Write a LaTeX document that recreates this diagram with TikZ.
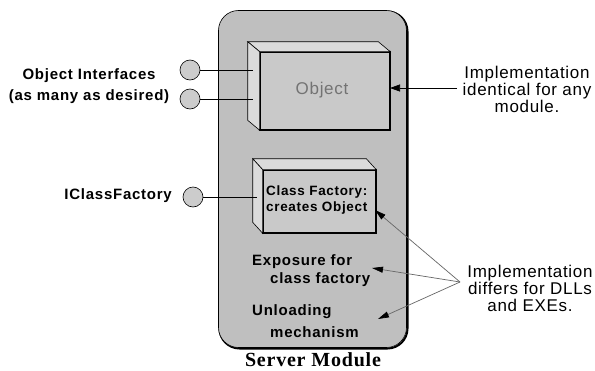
\documentclass[tikz,border=0pt]{standalone}
\usepackage{fontspec}
\setmainfont{Liberation Sans}
\newfontfamily\titlefont[LetterSpace=4]{Liberation Serif}
\newfontfamily\boldlab[LetterSpace=5]{Liberation Sans}
\newfontfamily\notefont[LetterSpace=4]{Liberation Sans}
\usetikzlibrary{arrows.meta,calc}
\definecolor{modfill}{gray}{0.75}
\definecolor{facefill}{gray}{0.86}
\definecolor{frontfill}{gray}{0.79}
\definecolor{dotfill}{gray}{0.80}
\tikzset{
  x=1pt, y=-1pt,
  label/.style={font=\boldlab\fontsize{15}{17}\selectfont\bfseries, inner sep=0pt},
  inner/.style={font=\boldlab\fontsize{15}{17}\selectfont\bfseries, inner sep=0pt, anchor=west},
  boxtext/.style={font=\boldlab\fontsize{13.5}{16}\selectfont\bfseries, inner sep=0pt, anchor=west},
  note/.style={font=\notefont\fontsize{17}{17}\selectfont, align=center, inner sep=0pt},
  iface/.style={circle, draw=black, line width=0.6pt, fill=dotfill, minimum size=20pt, inner sep=0pt},
  front/.style={rectangle, draw=black, line width=0.6pt, fill=frontfill, inner sep=0pt},
  face/.style={draw=black, line width=0.6pt, fill=facefill, line join=miter},
  shadowedge/.style={line width=2.2pt, line cap=round},
  wire/.style={line width=0.6pt},
  pointer/.style={line width=0.7pt, -{Triangle[length=10pt,width=7pt]}},
  greypointer/.style={line width=0.7pt, draw=black!60, -{Triangle[length=11pt,width=6pt,color=black,fill=black]}}
}
\begin{document}
\begin{tikzpicture}
\useasboundingbox (0,0) rectangle (595,370);
\fill[white] (0,0) rectangle (595,370);

% server module body with heavier right/bottom edge
\draw[line width=2pt, rounded corners=20pt] (219.5,11.5) rectangle (407.5,348.5);
\node[draw=black, line width=0.6pt, fill=modfill, rounded corners=20pt,
      minimum width=188pt, minimum height=337pt, inner sep=0pt] (module) at (312.5,179) {};

% Object: 3D box
\node[front, minimum width=130pt, minimum height=78pt] (objfront) at (325,91) {};
\draw[face] (objfront.north west) -- ++(-12,-10) -- ($(objfront.north east)+(-12,-10)$) -- (objfront.north east) -- cycle;
\draw[face] (objfront.north west) -- ++(-12,-10) -- ($(objfront.south west)+(-12,-10)$) -- (objfront.south west) -- cycle;
\draw[shadowedge] (objfront.north east) -- (objfront.south east) -- (objfront.south west);
\node[font=\notefont\fontsize{17}{17}\selectfont, text=black!55, inner sep=0pt] (objtext) at (322,90) {Object};

% Class factory: 3D box
\node[front, minimum width=113pt, minimum height=63pt] (cffront) at (319.5,201.5) {};
\draw[face] (cffront.north west) -- ++(-10,-11) -- ($(cffront.north east)+(-10,-11)$) -- (cffront.north east) -- cycle;
\draw[face] (cffront.north west) -- ++(-10,-11) -- ($(cffront.south west)+(-10,-11)$) -- (cffront.south west) -- cycle;
\draw[shadowedge] (cffront.north east) -- (cffront.south east) -- (cffront.south west);
\node[boxtext] (cf1) at (266,192) {Class Factory:};
\node[boxtext] (cf2) at (266,208) {creates Object};

% exposure and unloading text
\node[inner] (ex1) at (252,262) {Exposure for};
\node[inner] (ex2) at (270,280) {class factory};
\node[inner] (un1) at (252,312) {Unloading};
\node[inner] (un2) at (270,332) {mechanism};

% interfaces
\node[iface] (if1) at (190,70) {};
\node[iface] (if2) at (190,99) {};
\node[iface] (ifc) at (193,197) {};
\coordinate (if1end) at (253,70);
\coordinate (if2end) at (253,99);
\coordinate (ifcend) at (257,197);
\draw[wire] (if1) -- (if1end);
\draw[wire] (if2) -- (if2end);
\draw[wire] (ifc) -- (ifcend);

% left labels
\node[label] (lab1) at (89,76) {Object Interfaces};
\node[label] (lab2) at (89,97) {(as many as desired)};
\node[label, anchor=east] (lab3) at (172,196) {IClassFactory};

% right notes
\node[note] (note1) at (527,89) {Implementation\\identical for any\\module.};
\node[note] (note2) at (530,288) {Implementation\\differs for DLLs\\and EXEs.};

% pointers
\coordinate (n1start) at (457,88);
\coordinate (objtip) at (390,88);
\draw[pointer] (n1start) -- (objtip);
\coordinate (fan) at (460,282);
\coordinate (cftip) at (375,210);
\coordinate (extip) at (372,268);
\coordinate (untip) at (378,319);
\draw[greypointer] (fan) -- (cftip);
\draw[greypointer] (fan) -- (extip);
\draw[greypointer] (fan) -- (untip);

% title
\node[font=\titlefont\fontsize{20}{20}\selectfont\bfseries, inner sep=0pt] (title) at (313,360) {Server Module};
\end{tikzpicture}
\end{document}
